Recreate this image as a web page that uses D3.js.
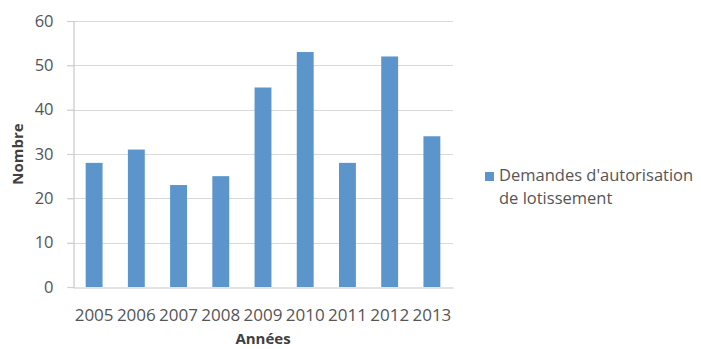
<!DOCTYPE html>
<html>
<head>
<meta charset="utf-8">
<script src="https://cdn.jsdelivr.net/npm/d3@7"></script>
<style>
  html, body { margin: 0; padding: 0; background: #fff; }
  svg text { font-family: "Open Sans", "Noto Sans", sans-serif; }
</style>
</head>
<body>
<svg id="chart" width="701" height="349"></svg>
<script>
// Demandes d'autorisation de lotissement par année
const years = ["2005", "2006", "2007", "2008", "2009", "2010", "2011", "2012", "2013"];
const demandes = [28, 31, 23, 25, 45, 53, 28, 52, 34];
const yTicks = [0, 10, 20, 30, 40, 50, 60];
const seriesName = ["Demandes d'autorisation", "de lotissement"];

const svg = d3.select("#chart");
const margin = { left: 73, right: 248, top: 21, bottom: 62 };
const W = 701, H = 349;

const x = d3.scaleBand()
  .domain(years)
  .range([margin.left, W - margin.right])
  .paddingInner(0.6)
  .paddingOuter(0.3);

const y = d3.scaleLinear()
  .domain([0, 60])
  .range([H - margin.bottom, margin.top]);

const barColor = "#5b95cb";
const textColor = "#555555";

// gridlines
svg.append("g")
  .selectAll("line")
  .data(yTicks.filter(d => d > 0))
  .join("line")
  .attr("x1", margin.left - 6)
  .attr("x2", W - margin.right)
  .attr("y1", d => Math.round(y(d)) + 0.5)
  .attr("y2", d => Math.round(y(d)) + 0.5)
  .attr("stroke", "#d9d9d9")
  .attr("stroke-width", 1.2);

// y axis
const yAxis = svg.append("g")
  .attr("transform", `translate(${margin.left + 0.5},0)`)
  .call(d3.axisLeft(y).tickValues(yTicks).tickSize(6).tickPadding(14));
yAxis.select(".domain").attr("stroke", "#c8c8c8").attr("stroke-width", 1.2);
yAxis.selectAll(".tick line").attr("stroke", "#d0d0d0").attr("stroke-width", 1.2);
yAxis.selectAll(".tick text")
  .attr("fill", textColor)
  .style("font-size", "16.5px");

// bars
svg.append("g")
  .selectAll("rect")
  .data(years.map((yr, i) => ({ yr, v: demandes[i] })))
  .join("rect")
  .attr("x", d => x(d.yr))
  .attr("width", x.bandwidth())
  .attr("y", d => y(d.v))
  .attr("height", d => y(0) - y(d.v))
  .attr("fill", barColor);

// x axis
const xAxis = svg.append("g")
  .attr("transform", `translate(0,${Math.round(y(0)) + 0.5})`)
  .call(d3.axisBottom(x).tickSize(0).tickPadding(17));
xAxis.select(".domain").attr("stroke", "#c8c8c8").attr("stroke-width", 1.2);
xAxis.selectAll(".tick text")
  .attr("fill", textColor)
  .attr("dy", 0)
  .attr("y", 33)
  .style("font-size", "17px");

// axis titles
svg.append("text")
  .attr("x", (margin.left + W - margin.right) / 2)
  .attr("y", 344)
  .attr("text-anchor", "middle")
  .attr("fill", "#404040")
  .style("font-size", "15px")
  .style("font-weight", "bold")
  .text("Années");

svg.append("text")
  .attr("transform", `translate(23,${y(30)}) rotate(-90)`)
  .attr("text-anchor", "middle")
  .attr("fill", "#404040")
  .style("font-size", "15px")
  .style("font-weight", "bold")
  .text("Nombre");

// legend
const legend = svg.append("g").attr("transform", "translate(485,171)");
legend.append("rect")
  .attr("width", 9).attr("height", 9)
  .attr("y", 1)
  .attr("fill", barColor);
legend.selectAll("text")
  .data(seriesName)
  .join("text")
  .attr("x", 14)
  .attr("y", (d, i) => 10 + i * 23)
  .attr("fill", textColor)
  .style("font-size", "16.5px")
  .text(d => d);
</script>
</body>
</html>
